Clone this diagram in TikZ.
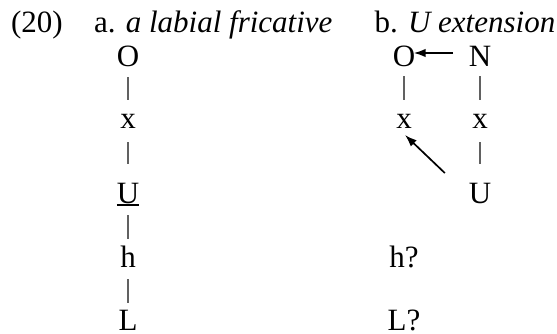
\documentclass[tikz,border=0pt]{standalone}
\usepackage{fontspec}
\setmainfont{Liberation Serif}
\usetikzlibrary{arrows.meta,calc}
\tikzset{
  lab/.style={inner sep=0pt, outer sep=0pt, anchor=base, text height=21pt, text depth=0pt, font=\fontsize{31}{37}\selectfont},
  head/.style={inner sep=0pt, outer sep=0pt, anchor=base west, font=\fontsize{31}{37}\selectfont},
  bar/.style={draw=black!62, line width=1.4pt},
  arr/.style={draw=black, line width=1.7pt, -{Latex[length=12pt,width=8.5pt]}}
}
\begin{document}
\begin{tikzpicture}[x=1pt,y=-1pt]
\useasboundingbox (0,0) rectangle (557,333);
% header
\node[head] (num) at (11,32) {(20)};
\node[head] (ta) at (94,32) {a. \textit{a labial fricative}};
\node[head] (tb) at (374.5,32) {b. \textit{U extension}};
% column a
\node[lab] (Oa) at (128,66) {O};
\node[lab] (xa) at (128,128) {x};
\node[lab] (Ua) at (128,203) {U};
\node[lab] (ha) at (128,267) {h};
\node[lab] (La) at (128,330) {L};
\draw[line width=2pt] ([yshift=-2pt]Ua.south west) -- ([yshift=-2pt]Ua.south east);
\draw[bar, shorten <=11pt, shorten >=7pt] (Oa.south) -- (xa.north);
\draw[bar, shorten <=14pt, shorten >=18pt] (xa.south) -- (Ua.north);
\draw[bar, shorten <=12pt, shorten >=7pt] (Ua.south) -- (ha.north);
\draw[bar, shorten <=12pt, shorten >=6pt] (ha.south) -- (La.north);
% column b
\node[lab] (Ob) at (404,66) {O};
\node[lab] (Nb) at (480,66) {N};
\node[lab] (xb) at (404,128) {x};
\node[lab] (xc) at (480,128) {x};
\node[lab] (Uc) at (480,203) {U};
\node[lab] (hb) at (404,267) {h?};
\node[lab] (Lb) at (404,330) {L?};
\draw[bar, shorten <=10pt, shorten >=7pt] (Ob.south) -- (xb.north);
\draw[bar, shorten <=10pt, shorten >=7pt] (Nb.south) -- (xc.north);
\draw[bar, shorten <=14pt, shorten >=18pt] (xc.south) -- (Uc.north);
\draw[arr, shorten <=15.8pt, shorten >=-1.5pt] ([yshift=2.5pt]Nb.west) -- ([yshift=2.5pt]Ob.east);
\draw[arr] ($(Uc.north west)+(-24,-9)$) -- ($(xb.south)+(1,7)$);
\end{tikzpicture}
\end{document}
